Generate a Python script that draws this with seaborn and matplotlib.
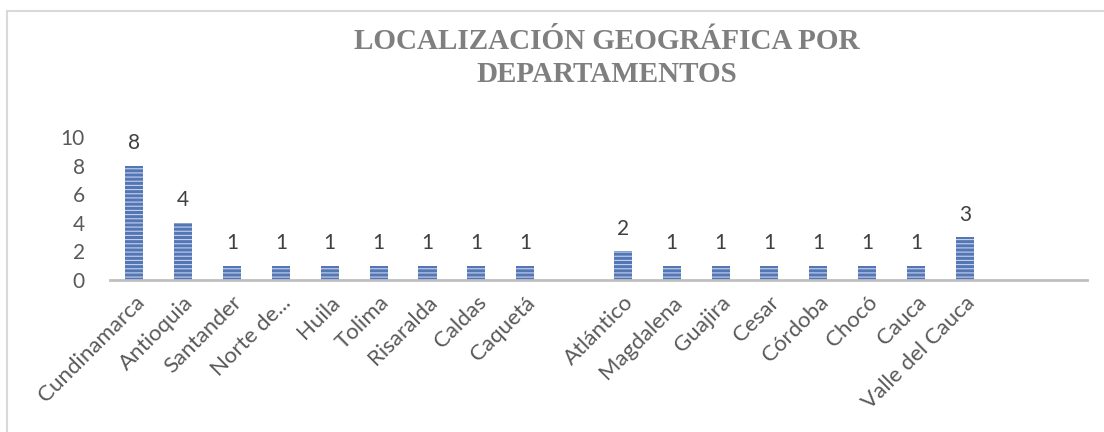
import matplotlib
matplotlib.use("Agg")
import matplotlib.pyplot as plt
import seaborn as sns
import pandas as pd
from matplotlib.patches import Rectangle

# Datos del grafico
grupo_1 = ["Cundinamarca", "Antioquia", "Santander", "Norte de...", "Huila",
           "Tolima", "Risaralda", "Caldas", "Caquetá"]
valores_1 = [8, 4, 1, 1, 1, 1, 1, 1, 1]
grupo_2 = ["Atlántico", "Magdalena", "Guajira", "Cesar", "Córdoba",
           "Chocó", "Cauca", "Valle del Cauca"]
valores_2 = [2, 1, 1, 1, 1, 1, 1, 3]
y_ticks = [0, 2, 4, 6, 8, 10]
titulo = "LOCALIZACIÓN GEOGRÁFICA POR\nDEPARTAMENTOS"

# categorias vacias (huecos del grafico original)
orden = grupo_1 + [" "] + grupo_2 + ["  ", "   "]
df = pd.DataFrame({"Departamento": grupo_1 + grupo_2,
                   "Cantidad": valores_1 + valores_2})

sns.set_style("white")
plt.rcParams["font.family"] = ["Lato", "DejaVu Sans"]
plt.rcParams["hatch.linewidth"] = 0.8

fig = plt.figure(figsize=(11.04, 4.32), dpi=100)
ax = fig.add_axes([0.0996, 0.352, 0.885, 0.331])

sns.barplot(data=df, x="Departamento", y="Cantidad", order=orden,
            color="#4472C4", width=0.37, ax=ax)

for bar in ax.patches:
    bar.set_hatch("----")
    bar.set_edgecolor("#c3d2ee")
    bar.set_linewidth(0)

for cont in ax.containers:
    ax.bar_label(cont, fontsize=15, color="#404040", padding=9)

ax.set_xlim(-0.5, len(orden) - 0.5)
ax.set_ylim(0, 10)
ax.set_yticks(y_ticks)
ax.set_xlabel("")
ax.set_ylabel("")
ax.tick_params(axis="y", length=0, pad=18, labelsize=15, labelcolor="#595959")
ax.tick_params(axis="x", length=0, pad=9, labelsize=16, labelcolor="#595959")
plt.setp(ax.get_xticklabels(), rotation=45, ha="right", rotation_mode="anchor")

for s in ["top", "right", "left"]:
    ax.spines[s].set_visible(False)
ax.spines["bottom"].set_color("#BFBFBF")
ax.spines["bottom"].set_linewidth(2)

fig.text(0.55, 0.866, titulo, ha="center", va="center", fontsize=21,
         fontweight="bold", color="#7F7F7F", family="Liberation Serif",
         linespacing=1.25)

# marco del grafico
fig.add_artist(Rectangle((0.0063, -0.2), 1.2, 1.175, transform=fig.transFigure,
                         fill=False, edgecolor="#D9D9D9", linewidth=1.5))

fig.savefig("out.png", dpi=100)
